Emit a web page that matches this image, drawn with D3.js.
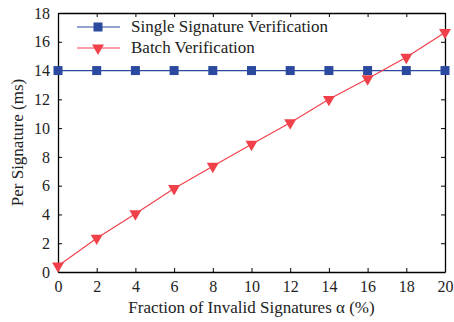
<!DOCTYPE html>
<html>
<head>
<meta charset="UTF-8">
<script src="https://cdnjs.cloudflare.com/ajax/libs/d3/7.8.5/d3.min.js"></script>
<style>
  body { margin: 0; background: #fff; }
  svg text { font-family: "Liberation Serif", "Times New Roman", serif !important; fill: #222; }
</style>
</head>
<body>
<script>
  // Data
  const fractions = [0, 2, 4, 6, 8, 10, 12, 14, 16, 18, 20];
  const singleVals = [14, 14, 14, 14, 14, 14, 14, 14, 14, 14, 14];
  const batchVals = [0.42, 2.35, 4.05, 5.8, 7.35, 8.88, 10.37, 12.0, 13.43, 14.92, 16.65];
  const xTicks = [0, 2, 4, 6, 8, 10, 12, 14, 16, 18, 20];
  const yTicks = [0, 2, 4, 6, 8, 10, 12, 14, 16, 18];
  const seriesNames = ["Single Signature Verification", "Batch Verification"];

  const W = 454, H = 322;
  const m = {left: 58, right: 9, top: 13, bottom: 50};

  const svg = d3.select("body").append("svg")
    .attr("width", W).attr("height", H)
    .attr("font-family", "Liberation Serif")
    .style("font-family", '"Liberation Serif"');

  const x = d3.scaleLinear().domain([0, 20]).range([m.left, W - m.right]);
  const y = d3.scaleLinear().domain([0, 18]).range([H - m.bottom, m.top]);

  // frame + inward ticks on all four sides
  const gx = svg.append("g")
    .attr("transform", `translate(0,${H - m.bottom})`)
    .call(d3.axisBottom(x).tickValues(xTicks).tickSizeInner(-4).tickSizeOuter(0).tickPadding(9));
  const gy = svg.append("g")
    .attr("transform", `translate(${m.left},0)`)
    .call(d3.axisLeft(y).tickValues(yTicks).tickSizeInner(-4).tickSizeOuter(0).tickPadding(8));
  svg.append("g")
    .attr("transform", `translate(0,${m.top})`)
    .call(d3.axisTop(x).tickValues(xTicks).tickSizeInner(-4).tickSizeOuter(0).tickFormat(""));
  svg.append("g")
    .attr("transform", `translate(${W - m.right},0)`)
    .call(d3.axisRight(y).tickValues(yTicks).tickSizeInner(-4).tickSizeOuter(0).tickFormat(""));
  svg.selectAll("g").attr("font-family", null);
  svg.selectAll(".domain").attr("stroke-width", 1.3);
  gx.selectAll("text").attr("font-size", 16);
  gy.selectAll("text").attr("font-size", 16);

  // axis titles
  svg.append("text")
    .attr("x", (m.left + W - m.right) / 2).attr("y", 313)
    .attr("text-anchor", "middle").attr("font-size", 17)
    .text("Fraction of Invalid Signatures \u03b1 (%)");
  svg.append("text")
    .attr("transform", `translate(23,${(m.top + H - m.bottom) / 2}) rotate(-90)`)
    .attr("text-anchor", "middle").attr("font-size", 17)
    .text("Per Signature (ms)");

  const blue = "#2b4a9f", red = "#f0414a";
  const line = d3.line().x((d, i) => x(fractions[i])).y(d => y(d));
  const tri = d3.symbol().type(d3.symbolTriangle).size(62);

  // single signature
  svg.append("path").datum(singleVals)
    .attr("d", line).attr("fill", "none").attr("stroke", blue).attr("stroke-width", 1.2);
  svg.selectAll(".sq").data(singleVals).enter().append("rect")
    .attr("x", (d, i) => x(fractions[i]) - 4.5).attr("y", d => y(d) - 4.5)
    .attr("width", 9).attr("height", 9).attr("fill", blue);

  // batch
  svg.append("path").datum(batchVals)
    .attr("d", line).attr("fill", "none").attr("stroke", red).attr("stroke-width", 1.2);
  svg.selectAll(".tri").data(batchVals).enter().append("path")
    .attr("d", tri)
    .attr("transform", (d, i) => `translate(${x(fractions[i])},${y(d)}) rotate(180)`)
    .attr("fill", red);

  // legend
  const rows = [{name: seriesNames[0], c: blue, t: "sq"}, {name: seriesNames[1], c: red, t: "tri"}];
  rows.forEach((r, i) => {
    const ly = 27 + i * 21;
    svg.append("line").attr("x1", 77).attr("x2", 120).attr("y1", ly).attr("y2", ly)
      .attr("stroke", r.c).attr("stroke-width", 1.2);
    if (r.t === "sq") {
      svg.append("rect").attr("x", 98 - 4.5).attr("y", ly - 4.5).attr("width", 9).attr("height", 9).attr("fill", r.c);
    } else {
      svg.append("path").attr("d", tri).attr("transform", `translate(98,${ly}) rotate(180)`).attr("fill", r.c);
    }
    svg.append("text").attr("x", 131).attr("y", ly + 5).attr("font-size", 17).text(r.name);
  });
</script>
</body>
</html>
